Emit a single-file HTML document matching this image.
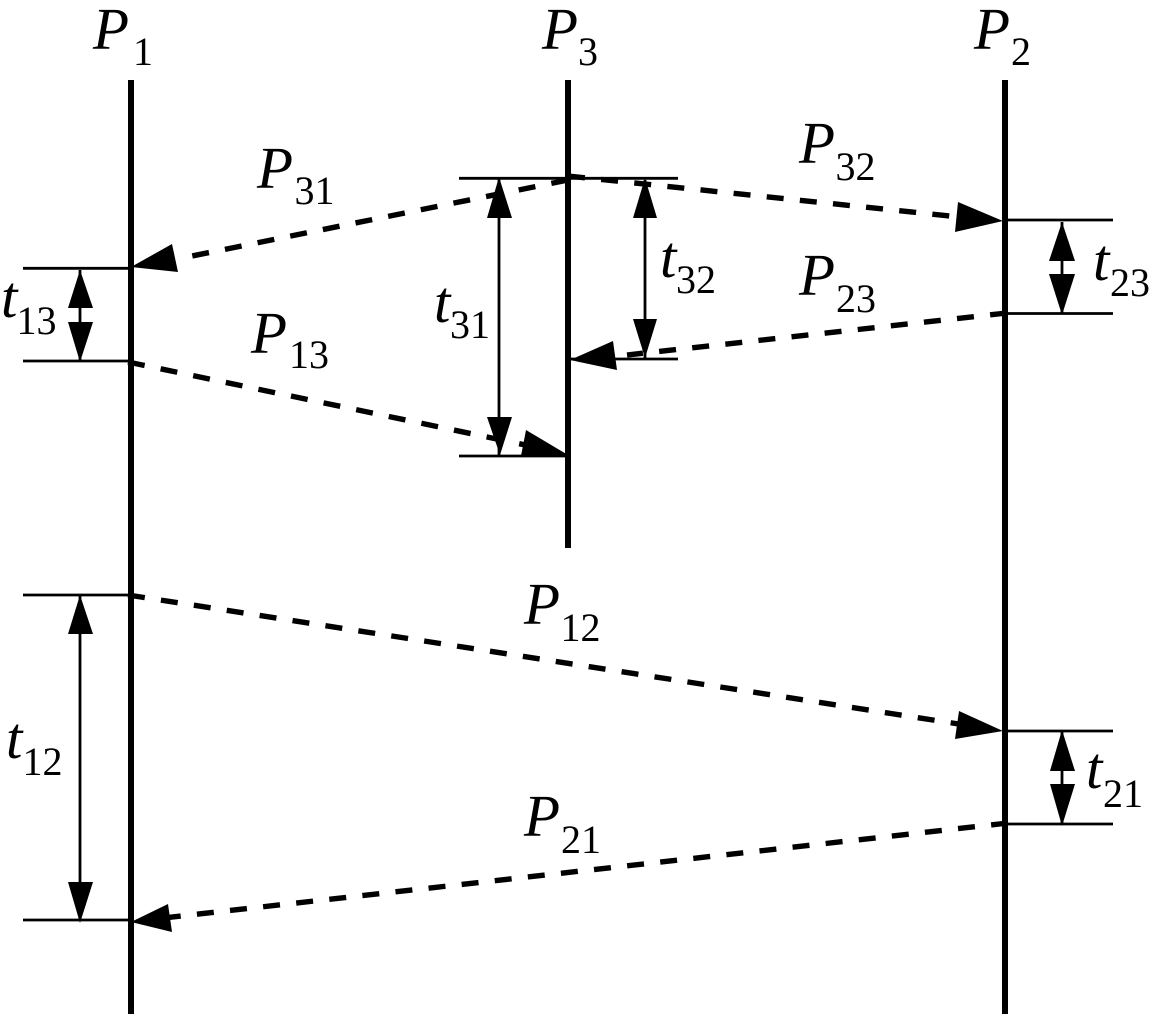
<!DOCTYPE html>
<html>
<head>
<meta charset="utf-8">
<style>
html,body{margin:0;padding:0;background:#fff;}
svg{display:block;}
text{font-family:"Liberation Serif",serif;fill:#000;}
.m{font-size:59px;font-style:italic;}
.s{font-size:40px;}
</style>
</head>
<body>
<svg width="1152" height="1015" viewBox="0 0 1152 1015">
<g stroke="#000" stroke-width="6" fill="none">
<line x1="131" y1="80" x2="131" y2="1014"/>
<line x1="568" y1="80" x2="568" y2="548"/>
<line x1="1005" y1="80" x2="1005" y2="1014"/>
</g>
<g stroke="#000" stroke-width="2.8" fill="none">
<line x1="23" y1="268.3" x2="131" y2="268.3"/>
<line x1="23" y1="361" x2="131" y2="361"/>
<line x1="23" y1="595" x2="131" y2="595"/>
<line x1="23" y1="920" x2="131" y2="920"/>
<line x1="459" y1="178.3" x2="678" y2="178.3"/>
<line x1="459" y1="456" x2="568" y2="456"/>
<line x1="568" y1="359" x2="678" y2="359"/>
<line x1="1005" y1="220" x2="1113" y2="220"/>
<line x1="1005" y1="313.5" x2="1113" y2="313.5"/>
<line x1="1005" y1="731" x2="1113" y2="731"/>
<line x1="1005" y1="824" x2="1113" y2="824"/>
<line x1="80" y1="270" x2="80" y2="361"/>
<line x1="80" y1="595" x2="80" y2="920"/>
<line x1="499" y1="178" x2="499" y2="456"/>
<line x1="645" y1="180" x2="645" y2="358"/>
<line x1="1062" y1="222" x2="1062" y2="314"/>
<line x1="1062" y1="731" x2="1062" y2="825"/>
</g>
<g stroke="#000" stroke-width="5.4" fill="none" stroke-dasharray="17 16.3">
<line x1="568" y1="180" x2="192" y2="256"/>
<line x1="128" y1="362" x2="535" y2="447"/>
<line x1="568" y1="176" x2="950" y2="216"/>
<line x1="1007" y1="313" x2="627" y2="355"/>
<line x1="128" y1="595" x2="965" y2="725"/>
<line x1="1008" y1="823" x2="163" y2="918"/>
</g>
<g fill="#000" stroke="none">
<polygon points="131,267 172,244 178,272"/>
<polygon points="568,455 526,430 521,456"/>
<polygon points="1003,221 958,202 955,232"/>
<polygon points="570,360 613,341 617,370"/>
<polygon points="1003,731 959,711 955,739"/>
<polygon points="131,922 168,904 172,932"/>
<polygon points="80,270 68,308 93,308"/>
<polygon points="80,362 68,322 93,322"/>
<polygon points="80,595 68,634 93,634"/>
<polygon points="80,923 68,882 93,882"/>
<polygon points="499,177 487,218 512,218"/>
<polygon points="500,455 487,417 512,417"/>
<polygon points="645,178 633,218 657,218"/>
<polygon points="645,358 633,319 657,319"/>
<polygon points="1062,222 1049,261 1075,261"/>
<polygon points="1062,315 1049,274 1075,274"/>
<polygon points="1062,730 1050,771 1075,771"/>
<polygon points="1062,826 1050,784 1075,784"/>
</g>
<text class="m" x="93" y="49">P</text><text class="s" x="133" y="65">1</text>
<text class="m" x="542" y="49">P</text><text class="s" x="578" y="65">3</text>
<text class="m" x="974" y="49">P</text><text class="s" x="1011" y="65">2</text>
<text class="m" x="257" y="188">P</text><text class="s" x="294.5" y="204">31</text>
<text class="m" x="799" y="163">P</text><text class="s" x="835.5" y="180">32</text>
<text class="m" x="799" y="295">P</text><text class="s" x="836" y="312">23</text>
<text class="m" x="251" y="353">P</text><text class="s" x="289" y="368">13</text>
<text class="m" x="524" y="624">P</text><text class="s" x="560.5" y="641">12</text>
<text class="m" x="524" y="836">P</text><text class="s" x="561" y="853">21</text>
<text class="m" x="1" y="317">t</text><text class="s" x="16.5" y="334">13</text>
<text class="m" x="434" y="322">t</text><text class="s" x="450" y="338">31</text>
<text class="m" x="660" y="277">t</text><text class="s" x="676" y="293">32</text>
<text class="m" x="1093" y="280">t</text><text class="s" x="1110" y="296">23</text>
<text class="m" x="6" y="758">t</text><text class="s" x="22.5" y="775">12</text>
<text class="m" x="1086" y="788">t</text><text class="s" x="1103" y="807">21</text>
</svg>
</body>
</html>
